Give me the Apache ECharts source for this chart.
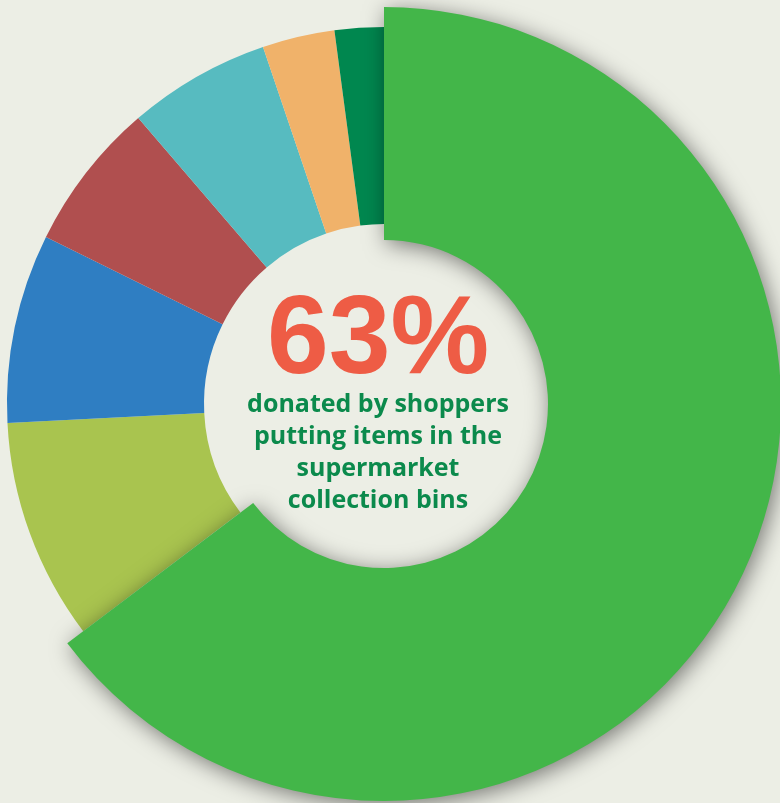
<!DOCTYPE html>
<html>
<head>
<meta charset="utf-8">
<script src="https://cdn.jsdelivr.net/npm/echarts@6/dist/echarts.min.js"></script>
<style>
html,body{margin:0;padding:0;background:#eceee5;}
#chart{width:780px;height:803px;}
</style>
</head>
<body>
<div id="chart"></div>
<script>
// Data (clockwise from 12 o'clock)
var categories = ['Supermarket collection bins', 'Category B', 'Category C', 'Category D', 'Category E', 'Category F', 'Category G'];
var values = [64.7, 9.5, 8.1, 6.4, 6.1, 3.1, 2.1];
var colors = ['#43b649', '#a9c44f', '#2f7ec2', '#b04f4f', '#57bbc0', '#f0b26a', '#00874f'];
var headline = '63%';
var captionLines = ['donated by shoppers', 'putting items in the', 'supermarket', 'collection bins'];

var chart = echarts.init(document.getElementById('chart'), null, {renderer: 'canvas'});
var transparent = 'rgba(0,0,0,0)';

function buildData(highlightFirst) {
  return categories.map(function (name, i) {
    var isFirst = i === 0;
    var visible = highlightFirst ? isFirst : !isFirst;
    var style = { color: visible ? colors[i] : transparent, borderWidth: 0 };
    if (highlightFirst && isFirst) {
      style.shadowBlur = 22;
      style.shadowColor = 'rgba(0,0,0,0.5)';
      style.shadowOffsetX = 3;
      style.shadowOffsetY = 4;
    }
    return { name: name, value: values[i], itemStyle: style };
  });
}

var common = {
  type: 'pie',
  center: [384, 404],
  startAngle: 90,
  clockwise: true,
  label: { show: false },
  labelLine: { show: false },
  emphasis: { disabled: true },
  silent: true,
  animation: false
};

var captionY = [405, 437, 469, 501];

chart.setOption({
  backgroundColor: '#eceee5',
  animation: false,
  series: [
    Object.assign({}, common, { radius: [180, 377], data: buildData(false), z: 1 }),
    Object.assign({}, common, { radius: [164, 397], data: buildData(true), z: 2 })
  ],
  graphic: [{
    type: 'text',
    style: {
      text: headline,
      x: 378,
      y: 342,
      align: 'center',
      verticalAlign: 'middle',
      fill: '#ee5c45',
      font: 'bold 111px "Liberation Sans", sans-serif'
    },
    z: 10
  }].concat(captionLines.map(function (line, i) {
    return {
      type: 'text',
      style: {
        text: line,
        x: 378,
        y: captionY[i],
        align: 'center',
        verticalAlign: 'middle',
        fill: '#0b8a4c',
        font: 'bold 25px "Open Sans", sans-serif'
      },
      z: 10
    };
  }))
});
</script>
</body>
</html>
